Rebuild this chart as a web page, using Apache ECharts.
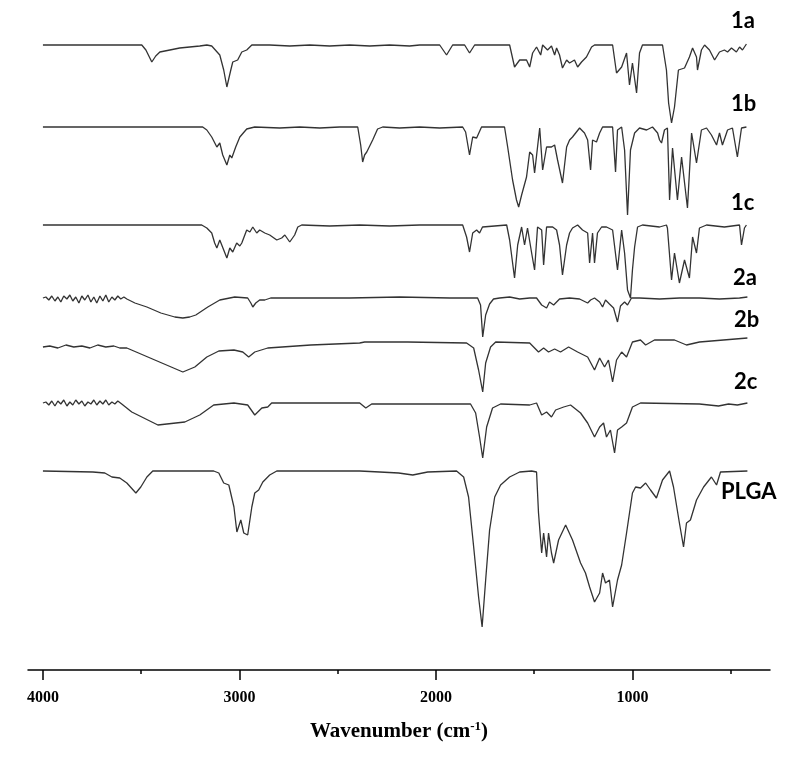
<!DOCTYPE html>
<html>
<head>
<meta charset="utf-8">
<script src="https://cdn.jsdelivr.net/npm/echarts@6.0.0/dist/echarts.min.js"></script>
<style>html,body{margin:0;padding:0;background:#fff}#c{width:800px;height:759px}</style>
</head>
<body>
<div id="c"></div>
<script>
// ---- data: [wavenumber (cm-1), offset transmittance (a.u.)] ----
const traceNames = ['1a', '1b', '1c', '2a', '2b', '2c', 'PLGA'];

const s1a = [[4000,625],[3497,625],[3476,620],[3446,608],[3426,614],[3405,618],[3354,620],[3304,622],[3253,623],[3202,624],[3166,625],[3141,624],[3100,615],[3080,600],[3064,583],[3044,600],[3034,608],[3009,610],[2988,618],[2963,620],[2937,625],[2846,625],[2744,624],[2642,625],[2541,624],[2439,625],[2337,624],[2236,625],[2134,624],[2083,625],[1981,625],[1946,615],[1915,625],[1854,625],[1829,617],[1803,625],[1625,625],[1600,603],[1574,610],[1539,610],[1523,603],[1508,617],[1488,623],[1467,615],[1457,625],[1432,620],[1412,624],[1396,615],[1386,622],[1371,615],[1356,602],[1335,610],[1320,607],[1295,610],[1279,603],[1259,608],[1234,613],[1208,623],[1193,625],[1101,625],[1081,597],[1055,603],[1030,617],[1015,585],[1000,607],[979,577],[964,617],[949,625],[847,625],[827,600],[816,567],[801,547],[786,563],[766,600],[735,602],[710,613],[694,622],[674,613],[669,600],[649,620],[633,625],[608,620],[582,610],[557,618],[532,620],[516,618],[496,622],[471,618],[455,623],[440,620],[420,626]];

const s1b = [[4000,543],[3187,543],[3166,540],[3141,533],[3115,523],[3100,527],[3085,515],[3064,505],[3049,515],[3039,512],[3019,523],[2998,533],[2963,541],[2922,543],[2795,542],[2693,543],[2591,542],[2490,543],[2398,543],[2383,525],[2373,508],[2363,515],[2352,518],[2342,516],[2322,530],[2297,541],[2271,543],[2185,542],[2083,543],[1981,542],[1864,543],[1849,538],[1829,515],[1813,533],[1793,532],[1768,543],[1651,543],[1635,523],[1610,490],[1590,470],[1579,463],[1564,475],[1539,493],[1523,518],[1508,515],[1498,497],[1472,542],[1457,500],[1437,523],[1412,523],[1396,525],[1381,510],[1356,487],[1335,523],[1320,530],[1305,533],[1269,542],[1244,537],[1228,530],[1213,500],[1203,530],[1183,528],[1167,537],[1152,543],[1101,543],[1086,498],[1076,540],[1055,543],[1040,520],[1025,455],[1010,520],[989,537],[964,542],[928,540],[898,543],[872,537],[862,530],[852,527],[837,540],[822,542],[811,470],[796,522],[771,470],[750,513],[720,462],[699,537],[674,507],[649,540],[623,542],[598,535],[572,525],[557,537],[542,525],[516,540],[491,542],[466,513],[445,542],[420,543]];

const s1c = [[4000,445],[3192,445],[3166,442],[3141,437],[3126,427],[3115,422],[3100,430],[3080,420],[3064,412],[3049,422],[3034,418],[3014,427],[2998,424],[2988,427],[2963,440],[2947,438],[2932,443],[2912,437],[2897,440],[2871,437],[2846,435],[2810,430],[2785,432],[2769,435],[2744,428],[2719,435],[2703,443],[2683,445],[2541,444],[2388,445],[2236,444],[2083,445],[1864,445],[1844,433],[1829,418],[1813,437],[1793,440],[1778,437],[1763,443],[1640,445],[1625,430],[1600,392],[1584,425],[1564,443],[1549,425],[1534,442],[1513,417],[1498,400],[1483,443],[1462,440],[1452,405],[1437,443],[1406,443],[1386,440],[1371,425],[1356,395],[1335,425],[1320,437],[1305,442],[1279,445],[1254,440],[1228,437],[1218,407],[1203,437],[1193,407],[1178,437],[1157,443],[1132,443],[1101,440],[1076,400],[1055,440],[1040,417],[1025,380],[1010,372],[1000,400],[989,423],[974,443],[949,445],[862,443],[827,445],[822,442],[801,390],[786,417],[761,387],[735,410],[710,392],[694,433],[674,417],[659,442],[623,445],[532,443],[455,445],[445,425],[430,442],[420,445]];

const s2a = [[4000,372],[3985,373],[3970,370],[3955,374],[3939,369],[3924,373],[3909,368],[3894,374],[3878,371],[3863,375],[3848,369],[3833,373],[3817,367],[3802,374],[3787,370],[3771,375],[3756,368],[3741,373],[3726,367],[3710,374],[3695,369],[3680,375],[3665,368],[3649,373],[3634,370],[3619,374],[3604,371],[3588,373],[3573,371],[3532,367],[3471,363],[3400,357],[3329,353],[3288,352],[3253,353],[3222,355],[3161,363],[3100,370],[3024,373],[2958,372],[2942,367],[2932,363],[2917,367],[2897,370],[2871,370],[2841,372],[2693,372],[2439,372],[2185,373],[1930,372],[1788,372],[1773,365],[1762,333],[1747,355],[1727,366],[1707,371],[1676,372],[1625,373],[1574,371],[1523,372],[1488,372],[1462,365],[1437,362],[1422,368],[1401,365],[1371,371],[1320,372],[1269,371],[1228,367],[1213,370],[1193,372],[1167,368],[1152,363],[1137,370],[1117,366],[1096,362],[1076,348],[1061,364],[1040,368],[1025,365],[1005,372],[964,372],[862,371],[761,372],[659,372],[557,371],[455,372],[415,373]];

const s2b = [[4000,323],[3965,324],[3924,322],[3883,325],[3843,323],[3802,324],[3761,322],[3721,325],[3680,323],[3639,324],[3609,322],[3573,322],[3288,298],[3227,303],[3166,313],[3105,319],[3028,320],[2983,318],[2953,313],[2922,318],[2856,322],[2637,325],[2388,327],[2363,328],[2144,328],[1844,327],[1808,322],[1783,300],[1762,278],[1747,307],[1722,323],[1696,328],[1523,327],[1478,318],[1452,322],[1427,318],[1396,321],[1366,318],[1325,323],[1279,318],[1228,313],[1193,300],[1167,312],[1142,303],[1122,310],[1101,288],[1081,310],[1055,318],[1030,313],[1000,328],[959,330],[933,325],[888,330],[786,330],[725,325],[659,328],[537,330],[415,332]];

const s2c = [[4000,267],[3985,268],[3970,265],[3955,269],[3939,264],[3924,269],[3909,266],[3894,270],[3878,264],[3863,268],[3848,265],[3833,270],[3817,266],[3802,269],[3787,264],[3771,268],[3756,266],[3741,270],[3726,265],[3710,269],[3695,266],[3680,270],[3665,265],[3649,268],[3634,266],[3619,269],[3599,266],[3548,258],[3415,245],[3278,248],[3202,255],[3131,265],[3028,267],[2958,265],[2922,255],[2886,262],[2856,263],[2836,267],[2388,267],[2357,262],[2327,266],[1824,266],[1798,257],[1778,233],[1762,212],[1742,243],[1712,262],[1671,266],[1523,265],[1488,267],[1462,255],[1437,258],[1412,253],[1391,260],[1350,263],[1315,265],[1264,257],[1228,247],[1193,233],[1167,243],[1147,247],[1132,233],[1112,240],[1091,217],[1076,240],[1055,243],[1030,247],[1000,263],[959,267],[659,266],[562,264],[511,266],[466,265],[415,267]];

const sPLGA = [[4000,199],[3746,198],[3685,197],[3649,193],[3609,192],[3573,187],[3527,177],[3502,183],[3471,193],[3441,199],[3131,199],[3105,197],[3080,187],[3054,185],[3028,163],[3013,138],[2993,150],[2978,137],[2958,135],[2937,163],[2922,177],[2902,180],[2881,188],[2846,195],[2810,199],[2388,199],[2286,198],[2190,197],[2118,195],[2042,198],[1895,199],[1859,193],[1834,173],[1808,123],[1783,73],[1765,43],[1747,90],[1727,140],[1701,173],[1671,185],[1625,193],[1574,198],[1513,199],[1488,198],[1478,157],[1462,117],[1452,137],[1437,113],[1427,137],[1412,117],[1401,107],[1376,130],[1340,145],[1305,130],[1264,107],[1239,97],[1218,83],[1193,68],[1167,77],[1152,97],[1137,87],[1117,90],[1101,63],[1076,90],[1055,105],[1030,137],[1000,177],[984,183],[959,182],[933,187],[908,180],[878,172],[847,190],[811,199],[791,183],[761,147],[740,123],[725,147],[705,150],[674,170],[638,183],[598,193],[572,185],[552,198],[415,199]];

const majorTicks = [1000, 2000, 3000, 4000];
const minorTicks = [500, 1500, 2500, 3500];
const axisRange = [300, 4076];
const yRange = [0, 660];

// ---- chart ----
const spectra = [s1a, s1b, s1c, s2a, s2b, s2c, sPLGA];
const labelLayout = [[731, 10], [731, 93], [731, 192], [733, 267], [734, 309], [734, 371], [721, 481]];

const chart = echarts.init(document.getElementById('c'), null, {renderer: 'canvas'});
const serifBold = {fontFamily: '"Liberation Serif", "Times New Roman", serif', fontWeight: 'bold', color: '#000'};

chart.setOption({
  animation: false,
  backgroundColor: '#fff',
  grid: {left: 28, right: 30, top: 10, bottom: 89},
  xAxis: [{
    type: 'value', inverse: true, min: axisRange[0], max: axisRange[1],
    axisLine: {lineStyle: {color: '#000', width: 1.5}},
    axisTick: {show: true, customValues: majorTicks, length: 10, inside: false, lineStyle: {color: '#000', width: 1.5}},
    axisLabel: Object.assign({customValues: majorTicks, margin: 20, fontSize: 16, formatter: v => String(v)}, serifBold),
    splitLine: {show: false},
    name: '{b|Wavenumber (cm}{s|-1}{b|)}',
    nameLocation: 'middle',
    nameGap: 50,
    nameTextStyle: {
      rich: {
        b: Object.assign({fontSize: 21, lineHeight: 23}, serifBold),
        s: Object.assign({fontSize: 13, lineHeight: 13, verticalAlign: 'top'}, serifBold)
      }
    }
  }, {
    type: 'value', inverse: true, min: axisRange[0], max: axisRange[1], position: 'bottom',
    axisLine: {show: false},
    axisTick: {show: true, customValues: minorTicks, length: 4, lineStyle: {color: '#000', width: 1.5}},
    axisLabel: {show: false},
    splitLine: {show: false}
  }],
  yAxis: {type: 'value', min: yRange[0], max: yRange[1], show: false},
  series: spectra.map((d, i) => ({
    name: traceNames[i],
    type: 'line',
    xAxisIndex: 0,
    data: d,
    symbol: 'none',
    showSymbol: false,
    lineStyle: {color: '#333333', width: 1.3},
    silent: true
  })),
  graphic: traceNames.map((n, i) => ({
    type: 'text',
    left: labelLayout[i][0],
    top: labelLayout[i][1],
    style: {text: n, font: 'bold 22px Lato, "Liberation Sans", sans-serif', fill: '#000'}
  }))
});
</script>
</body>
</html>
